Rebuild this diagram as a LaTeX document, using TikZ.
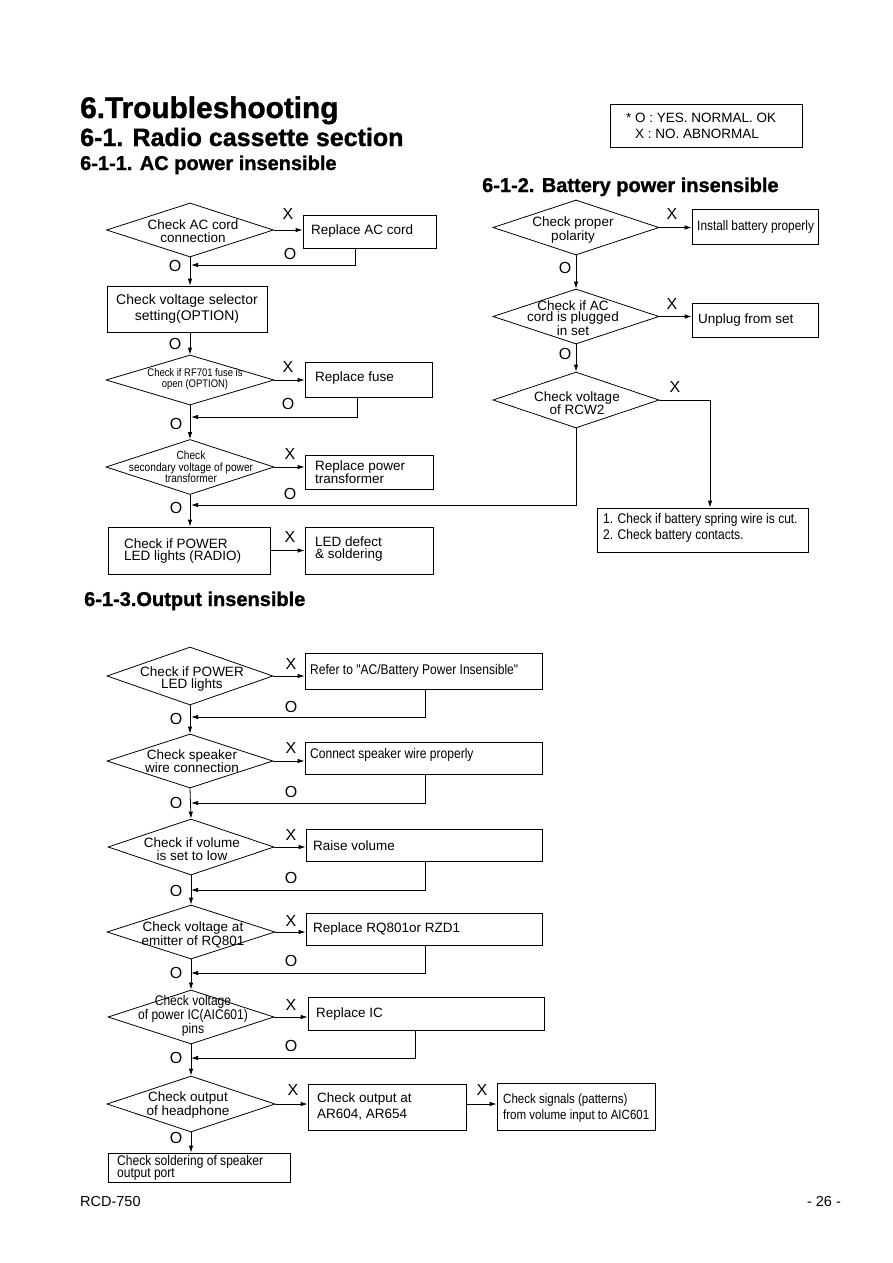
\documentclass[tikz,border=0pt]{standalone}
\usepackage{fontspec}
\setmainfont{Liberation Sans}
\newfontfamily\nar[FakeStretch=0.86]{Liberation Sans}
\newfontfamily\hd[FakeBold=1.2]{Liberation Sans Bold}
\usetikzlibrary{shapes.geometric,arrows.meta}
\begin{document}
\begin{tikzpicture}[x=1pt,y=-1pt,
  dia/.style={draw, diamond, inner sep=0pt, line width=0.8pt},
  bx/.style={draw, rectangle, inner sep=0pt, line width=0.8pt},
  dt/.style={font=\fontsize{13.5}{12.5}\selectfont, align=center, inner sep=0pt},
  dn/.style={font=\nar\fontsize{14}{11.5}\selectfont, align=center, inner sep=0pt},
  bt/.style={font=\fontsize{13.5}{12.5}\selectfont, align=left, inner sep=0pt, anchor=west},
  bn/.style={font=\nar\fontsize{14}{16}\selectfont, align=left, inner sep=0pt, anchor=west},
  yn/.style={font=\fontsize{16}{16}\selectfont, inner sep=0pt},
  hA/.style={font=\hd\fontsize{29.8}{30}\selectfont, inner sep=0pt, anchor=base west},
  hB/.style={font=\hd\fontsize{25}{26}\selectfont, inner sep=0pt, anchor=base west},
  hC/.style={font=\hd\fontsize{20}{21}\selectfont, inner sep=0pt, anchor=base west},
  arr/.style={-{Latex[length=7pt,width=4.5pt]}, line width=0.8pt},
  ln/.style={line width=0.8pt}]
\useasboundingbox (0,0) rectangle (893,1263);
\fill[white] (0,0) rectangle (893,1263);

% titles
\node[hA] (t1) at (80,118) {6.Troubleshooting};
\node[hB] (t2) at (80,146) {6-1. Radio cassette section};
\node[hC] (t3) at (80,170) {6-1-1. AC power insensible};
\node[hC] (t4) at (482,192) {6-1-2. Battery power insensible};
\node[hC] (t5) at (84,606) {6-1-3.Output insensible};

% legend
\node[bx, minimum width=192pt, minimum height=43pt] (leg) at (706,125.5) {};
\node[font=\fontsize{13.5}{16}\selectfont, align=left, inner sep=0pt, anchor=west] (legt) at (626,126) {* O : YES. NORMAL. OK\\\hphantom{* }X : NO. ABNORMAL};

% ---------------- 6-1-1 ----------------
\node[dia, minimum width=167pt, minimum height=54pt] (A1) at (190,230) {};
\node[dt] (A1t) at (193,231) {Check AC cord\\connection};
\node[bx, minimum width=133pt, minimum height=33pt] (A1x) at (369.5,231.5) {};
\node[bt] (A1xt) at (311,231) {Replace AC cord};
\node[yn] (A1X) at (288,214) {X};
\node[yn] (A1O) at (290,254) {O};
\coordinate (j1) at (191,265);
\node[yn] (A1O2) at (175,266) {O};
\draw[arr] (A1.east) -- (A1.east -| A1x.west);
\draw[arr] ([xshift=-14.5pt]A1x.south) |- (j1);

\node[bx, minimum width=160pt, minimum height=46pt] (A2) at (187,309) {};
\node[dt, font=\fontsize{14}{16}\selectfont] (A2t) at (187,309) {Check voltage selector\\setting(OPTION)};
\draw[arr] (A1.south) -- (A1.south |- A2.north);

\node[dia, minimum width=168pt, minimum height=50pt] (A3) at (190,380) {};
\node[dn, font=\nar\fontsize{11}{11}\selectfont] (A3t) at (195,379) {Check if RF701 fuse is\\open (OPTION)};
\node[yn] (A2O) at (175,344) {O};
\draw[arr] (A1.south |- A2.south) -- (A3.north);
\node[bx, minimum width=127pt, minimum height=35pt] (A3x) at (368.5,379.5) {};
\node[bt] (A3xt) at (315,378) {Replace fuse};
\node[yn] (A3X) at (288,367) {X};
\node[yn] (A3O) at (288,404) {O};
\coordinate (j2) at (191,417);
\node[yn] (A3O2) at (176,424) {O};
\draw[arr] (A3.east) -- (A3.east -| A3x.west);
\draw[arr] ([xshift=-11.5pt]A3x.south) |- (j2);

\node[dia, minimum width=168pt, minimum height=55pt] (A4) at (190,467) {};
\node[dn, font=\nar\fontsize{11.8}{11.5}\selectfont] (A4t) at (191,467) {Check\\secondary voltage of power\\transformer};
\draw[arr] (A3.south) -- (A4.north);
\node[bx, minimum width=128pt, minimum height=34pt] (A4x) at (369,472) {};
\node[bt] (A4xt) at (315,472) {Replace power\\transformer};
\node[yn] (A4X) at (290,454) {X};
\node[yn] (A4O) at (290,494) {O};
\draw[arr] (A4.east) -- (A4.east -| A4x.west);
\coordinate (j3) at (191,505);
\node[yn] (A4O2) at (176,508) {O};

\node[bx, minimum width=162pt, minimum height=47pt] (A5) at (189,550.5) {};
\node[bt] (A5t) at (124,551) {Check if POWER\\LED lights (RADIO)};
\draw[arr] (A4.south) -- (A4.south |- A5.north);
\node[bx, minimum width=128pt, minimum height=47pt] (A5x) at (369,550.5) {};
\node[bt] (A5xt) at (315,549) {LED defect\\\& soldering};
\node[yn] (A5X) at (290,537) {X};
\draw[arr] (A5.east) -- (A5x.west);

% ---------------- 6-1-2 ----------------
\node[dia, minimum width=166pt, minimum height=55pt] (B1) at (576,227.5) {};
\node[dt] (B1t) at (573,230) {Check proper\\polarity};
\node[bx, minimum width=126pt, minimum height=35pt] (B1x) at (755,226.5) {};
\node[bn, font=\nar\fontsize{13.8}{16}\selectfont] (B1xt) at (697,227) {Install battery properly};
\node[yn] (B1X) at (672,214) {X};
\draw[arr] (B1.east) -- (B1.east -| B1x.west);
\node[yn] (B1O) at (565,268) {O};

\node[dia, minimum width=166pt, minimum height=55pt] (B2) at (576,316.5) {};
\node[dt, font=\fontsize{13.5}{11.7}\selectfont] (B2t) at (573,318) {Check if AC\\cord is plugged\\in set};
\draw[arr] (B1.south) -- (B2.north);
\node[bx, minimum width=126pt, minimum height=34pt] (B2x) at (755,320) {};
\node[bt] (B2xt) at (698,320) {Unplug from set};
\node[yn] (B2X) at (672,304) {X};
\draw[arr] (B2.east) -- (B2.east -| B2x.west);
\node[yn] (B2O) at (565,354) {O};

\node[dia, minimum width=166pt, minimum height=56pt] (B3) at (576,400) {};
\node[dt] (B3t) at (577,403) {Check voltage\\of RCW2};
\draw[arr] (B2.south) -- (B3.north);
\node[yn] (B3X) at (675,387) {X};
\node[bx, minimum width=211pt, minimum height=44pt] (B3x) at (702.5,530) {};
\node[bn] (B3xt) at (603,528) {1. Check if battery spring wire is cut.\\2. Check battery contacts.};
\coordinate (k1) at (710,400);
\draw[arr] (B3.east) -- (k1) -- (k1 |- B3x.north);
\draw[arr] (B3.south) |- (j3);

% ---------------- 6-1-3 ----------------
\node[dia, minimum width=166pt, minimum height=58pt] (C1) at (190,676) {};
\node[dt] (C1t) at (192,679) {Check if POWER\\LED lights};
\node[bx, minimum width=237pt, minimum height=36pt] (C1x) at (423.5,671) {};
\node[bn] (C1xt) at (310,671) {Refer to "AC/Battery Power Insensible"};
\node[yn] (C1X) at (291,664) {X};
\node[yn] (C1O) at (291,707) {O};
\coordinate (j4) at (191,717);
\node[yn] (C1O2) at (176,719) {O};
\draw[arr] (C1.east) -- (C1.east -| C1x.west);
\draw[arr] ([xshift=1.5pt]C1x.south) |- (j4);

\node[dia, minimum width=166pt, minimum height=54pt] (C2) at (190,761) {};
\node[dt] (C2t) at (192,761) {Check speaker\\wire connection};
\draw[arr] (C1.south) -- (C2.north);
\node[bx, minimum width=237pt, minimum height=32pt] (C2x) at (423.5,758) {};
\node[bn] (C2xt) at (310,755) {Connect speaker wire properly};
\node[yn] (C2X) at (291,748) {X};
\node[yn] (C2O) at (291,792) {O};
\coordinate (j5) at (191,803);
\node[yn] (C2O2) at (176,803) {O};
\draw[arr] (C2.east) -- (C2.east -| C2x.west);
\draw[arr] ([xshift=1.5pt]C2x.south) |- (j5);

\node[dia, minimum width=166pt, minimum height=56pt] (C3) at (191,847) {};
\node[dt] (C3t) at (192,849) {Check if volume\\is set to low};
\draw[arr] (C2.south) -- (C3.north);
\node[bx, minimum width=236pt, minimum height=32pt] (C3x) at (424,845) {};
\node[bt] (C3xt) at (313,846) {Raise volume};
\node[yn] (C3X) at (291,835) {X};
\node[yn] (C3O) at (291,878) {O};
\coordinate (j6) at (191,890);
\node[yn] (C3O2) at (176,891) {O};
\draw[arr] (C3.east) -- (C3.east -| C3x.west);
\draw[arr] ([xshift=1pt]C3x.south) |- (j6);

\node[dia, minimum width=168pt, minimum height=54pt] (C4) at (191,932) {};
\node[dt] (C4t) at (193,935) {Check voltage at\\emitter of RQ801};
\draw[arr] (C3.south) -- (C4.north);
\node[bx, minimum width=236pt, minimum height=32pt] (C4x) at (424,929) {};
\node[bt] (C4xt) at (313,929) {Replace RQ801or RZD1};
\node[yn] (C4X) at (291,921) {X};
\node[yn] (C4O) at (291,961) {O};
\coordinate (j7) at (191,973);
\node[yn] (C4O2) at (176,973) {O};
\draw[arr] (C4.east) -- (C4.east -| C4x.west);
\draw[arr] ([xshift=1pt]C4x.south) |- (j7);

\node[dia, minimum width=166pt, minimum height=54pt] (C5) at (191,1017) {};
\node[dn] (C5t) at (193,1016) {Check voltage\\of power IC(AIC601)\\pins};
\draw[arr] (C4.south) -- (C5.north);
\node[bx, minimum width=236pt, minimum height=33pt] (C5x) at (426,1013.5) {};
\node[bt] (C5xt) at (316,1014) {Replace IC};
\node[yn] (C5X) at (291,1005) {X};
\node[yn] (C5O) at (291,1046) {O};
\coordinate (j8) at (191,1058);
\node[yn] (C5O2) at (176,1058) {O};
\draw[arr] (C5.east) -- (C5.east -| C5x.west);
\draw[arr] ([xshift=-11pt]C5x.south) |- (j8);

\node[dia, minimum width=168pt, minimum height=56pt] (C6) at (191,1104) {};
\node[dt] (C6t) at (188,1105) {Check output\\of headphone};
\draw[arr] (C5.south) -- (C6.north);
\node[bx, minimum width=158pt, minimum height=46pt] (C6x) at (387,1107) {};
\node[bt, font=\fontsize{13.5}{16}\selectfont] (C6xt) at (317,1106) {Check output at\\AR604, AR654};
\node[yn] (C6X) at (293,1090) {X};
\node[bx, minimum width=158pt, minimum height=47pt] (C6y) at (576,1106.5) {};
\node[bn, font=\nar\fontsize{13.4}{16}\selectfont] (C6yt) at (503,1108) {Check signals (patterns)\\from volume input to AIC601};
\node[yn] (C6X2) at (482,1090) {X};
\draw[arr] (C6.east) -- (C6.east -| C6x.west);
\draw[arr] (C6.east -| C6x.east) -- (C6.east -| C6y.west);
\node[bx, minimum width=182pt, minimum height=29pt] (C6z) at (199,1167.5) {};
\node[bn, font=\nar\fontsize{14}{12.5}\selectfont] (C6zt) at (117,1168) {Check soldering of speaker\\output port};
\node[yn] (C6O) at (176,1138) {O};
\draw[arr] (C6.south) -- (C6.south |- C6z.north);

% footer
\node[font=\fontsize{14.5}{15}\selectfont, inner sep=0pt, anchor=base west] (f1) at (80,1206) {RCD-750};
\node[font=\fontsize{14.5}{15}\selectfont, inner sep=0pt, anchor=base] (f2) at (824,1206) {- 26 -};
\end{tikzpicture}
\end{document}
